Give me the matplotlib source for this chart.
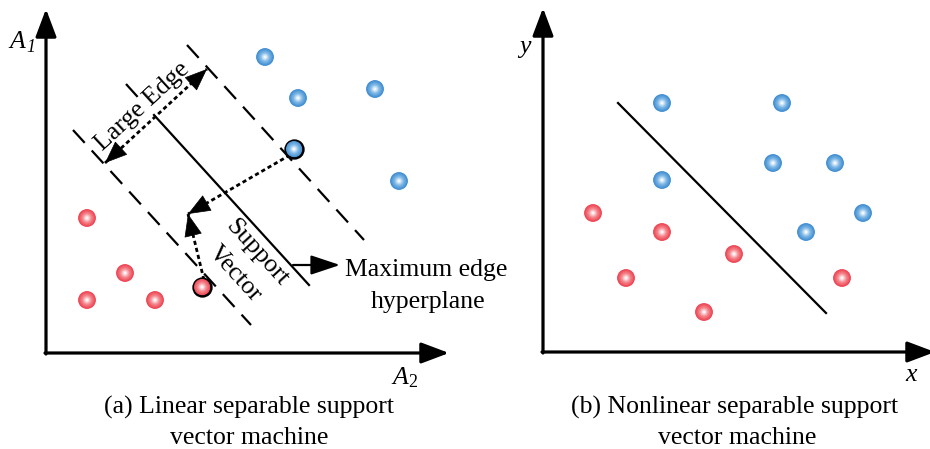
import numpy as np
import matplotlib
matplotlib.use("Agg")
import matplotlib.pyplot as plt
from matplotlib.colors import to_rgb

plt.rcParams['font.family'] = ['Liberation Serif', 'DejaVu Serif']
plt.rcParams['mathtext.fontset'] = 'custom'
plt.rcParams['mathtext.rm'] = 'Liberation Serif'
plt.rcParams['mathtext.it'] = 'Liberation Serif:italic'
plt.rcParams['lines.scale_dashes'] = False

# ---------------- data : panel (a) ----------------
a_blue_x = [219, 252, 329, 353]
a_blue_y = [296, 255, 264, 172]
a_red_x = [41, 79, 41, 109]
a_red_y = [135, 80, 53, 53]
a_sv_x = [248, 156]
a_sv_y = [204, 66]
a_sv_class = ['blue', 'red']
a_plane_x = [108, 263]
a_plane_y = [238, 68]
a_plane_ext_x = [80, 108]
a_plane_ext_y = [269, 238]
a_upper_x = [141, 318]
a_upper_y = [308, 113]
a_lower_x = [27, 205]
a_lower_y = [223, 28]
a_edge_x = [59, 161]
a_edge_y = [190, 284]
a_meet = (142, 139)
a_pointer_x = [247, 294]
a_pointer_y = [88, 88]

# ---------------- data : panel (b) ----------------
b_blue_x = [119, 239, 230, 292, 119, 320, 263]
b_blue_y = [249, 249, 189, 189, 172, 139, 120]
b_red_x = [50, 119, 191, 83, 299, 161]
b_red_y = [139, 120, 98, 74, 74, 40]
b_line_x = [75, 283]
b_line_y = [249, 39]

FS = 18.5
W, H = 930, 449
fig = plt.figure(figsize=(W / 100, H / 100), dpi=100)

axA = fig.add_axes([46 / W, (H - 353) / H, 402 / W, 343 / H])
axA.set_xlim(0, 402); axA.set_ylim(0, 343)
axB = fig.add_axes([543 / W, (H - 352) / H, 387 / W, 343 / H])
axB.set_xlim(0, 387); axB.set_ylim(0, 343)
for ax in (axA, axB):
    ax.axis('off')

BLUE_EDGE, BLUE_MID, BLUE_CEN = '#3F8DD2', '#7DB7E6', '#FFFFFF'
RED_EDGE, RED_MID, RED_CEN = '#EF4250', '#F4858D', '#FFFFFF'
S = 165  # marker area (pt^2)


def spheres(ax, xs, ys, edge, mid, cen, lw=0.0, ec='none', z=4):
    e, m, c = (np.array(to_rgb(v)) for v in (edge, mid, cen))
    fr = np.linspace(1.0, 0.1, 10)
    for i, f in enumerate(fr):
        t = i / (len(fr) - 1)
        col = e * (1 - 2 * t) + m * 2 * t if t < 0.5 else m * (2 - 2 * t) + c * (2 * t - 1)
        ax.scatter(xs, ys, s=S * f ** 2, color=np.clip(col, 0, 1),
                   linewidths=lw if i == 0 else 0,
                   edgecolors=ec if i == 0 else 'none', zorder=z + i * 0.01, clip_on=False)


def axis_arrows(ax, xmax, ymax):
    ap = dict(arrowstyle='-|>,head_length=0.85,head_width=0.32', lw=2.3, color='black',
              shrinkA=0, shrinkB=0, mutation_scale=20)
    ax.annotate('', xy=(xmax, 0), xytext=(-1.0, 0), arrowprops=ap, annotation_clip=False)
    ax.annotate('', xy=(0, ymax), xytext=(0, -1.0), arrowprops=ap, annotation_clip=False)


def dotted_arrow(ax, p, q, heads=(False, True)):
    p, q = np.array(p, float), np.array(q, float)
    d = (q - p) / np.hypot(*(q - p))
    ax.plot([p[0], q[0]], [p[1], q[1]], color='black', lw=2.0,
            linestyle=(0, (3.0, 2.2)), zorder=3, clip_on=False)
    ap = dict(arrowstyle='-|>,head_length=0.75,head_width=0.3', lw=0.5, color='black',
              shrinkA=0, shrinkB=0, mutation_scale=20)
    if heads[1]:
        ax.annotate('', xy=q, xytext=q - d * 14, arrowprops=ap, annotation_clip=False)
    if heads[0]:
        ax.annotate('', xy=p, xytext=p + d * 14, arrowprops=ap, annotation_clip=False)


# ---------------- panel (a) ----------------
axis_arrows(axA, 403, 344)
dash = (0, (12.5, 7.5))
axA.plot(a_upper_x, a_upper_y, color='black', lw=1.6, linestyle=dash, zorder=2)
axA.plot(a_lower_x, a_lower_y, color='black', lw=1.6, linestyle=dash, zorder=2)
axA.plot(a_plane_ext_x, a_plane_ext_y, color='black', lw=1.6, linestyle=(0, (12.5, 30)), zorder=2)
axA.plot(a_plane_x, a_plane_y, color='black', lw=1.6, zorder=2)

dotted_arrow(axA, (a_edge_x[0], a_edge_y[0]), (a_edge_x[1], a_edge_y[1]), heads=(True, True))
dotted_arrow(axA, (a_sv_x[0] - 4, a_sv_y[0] - 6), a_meet)
dotted_arrow(axA, (a_sv_x[1] + 2, a_sv_y[1] + 7), a_meet)

axA.annotate('', xy=(a_pointer_x[1], a_pointer_y[1]), xytext=(a_pointer_x[0], a_pointer_y[0]),
             arrowprops=dict(arrowstyle='-|>,head_length=0.9,head_width=0.3', lw=1.6,
                             color='black', shrinkA=0, shrinkB=0, mutation_scale=20))

spheres(axA, a_blue_x, a_blue_y, BLUE_EDGE, BLUE_MID, BLUE_CEN)
spheres(axA, a_red_x, a_red_y, RED_EDGE, RED_MID, RED_CEN)
spheres(axA, [a_sv_x[0]], [a_sv_y[0]], BLUE_EDGE, BLUE_MID, BLUE_CEN, lw=1.8, ec='black', z=5)
spheres(axA, [a_sv_x[1]], [a_sv_y[1]], RED_EDGE, RED_MID, RED_CEN, lw=1.8, ec='black', z=5)

ang_edge = np.degrees(np.arctan2(a_edge_y[1] - a_edge_y[0], a_edge_x[1] - a_edge_x[0]))
ang_plane = np.degrees(np.arctan2(a_plane_y[1] - a_plane_y[0], a_plane_x[1] - a_plane_x[0]))
axA.text(96, 246, 'Large Edge', fontsize=FS, rotation=ang_edge, rotation_mode='anchor',
         ha='center', va='center')
axA.text(211, 100, 'Support', fontsize=FS, rotation=ang_plane, rotation_mode='anchor',
         ha='center', va='center')
axA.text(189, 79, 'Vector', fontsize=FS, rotation=ang_plane, rotation_mode='anchor',
         ha='center', va='center')


def ftext(x, y, s, **kw):
    kw.setdefault('fontsize', FS)
    fig.text(x / W, 1 - y / H, s, **kw)


ftext(426, 276, 'Maximum edge', ha='center', va='baseline')
ftext(428, 308, 'hyperplane', ha='center', va='baseline')
ftext(25, 48, 'A', ha='right', va='baseline', style='italic')
ftext(26, 52, '1', ha='left', va='baseline', style='italic', fontsize=13)
ftext(405, 384, r'$A_2$', ha='center', va='baseline')
ftext(249, 414, '(a) Linear separable support', ha='center', va='baseline')
ftext(249, 444, 'vector machine', ha='center', va='baseline')

# ---------------- panel (b) ----------------
axis_arrows(axB, 392, 344)
axB.plot(b_line_x, b_line_y, color='black', lw=1.6, zorder=2)
spheres(axB, b_blue_x, b_blue_y, BLUE_EDGE, BLUE_MID, BLUE_CEN)
spheres(axB, b_red_x, b_red_y, RED_EDGE, RED_MID, RED_CEN)

ftext(525, 53, r'$y$', ha='center', va='baseline')
ftext(912, 381, r'$x$', ha='center', va='baseline')
ftext(735, 414, '(b) Nonlinear separable support', ha='center', va='baseline')
ftext(737, 444, 'vector machine', ha='center', va='baseline')

fig.savefig('out.png', dpi=100, facecolor='white')
